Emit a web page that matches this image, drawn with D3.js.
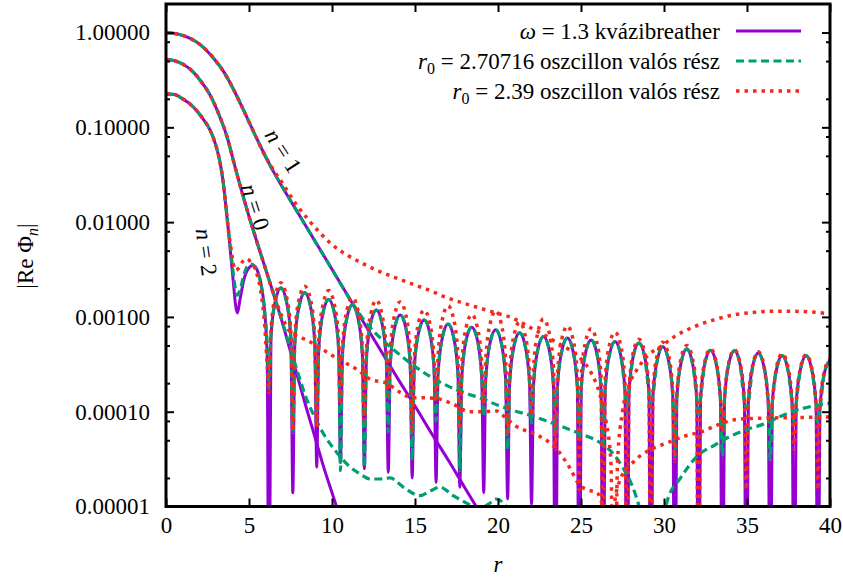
<!DOCTYPE html>
<html><head><meta charset="utf-8">
<script src="https://cdn.jsdelivr.net/npm/d3@7"></script>
<style>
body{margin:0;background:#fff;}
svg text{font-family:"Liberation Serif","DejaVu Serif",serif;fill:#000;}
</style></head><body>
<svg id="chart" width="843" height="581"></svg>
<script>
// |Re Phi_n| profiles, sampled as [r, value]

// n = 1 component
const p1 = [[0,1.0],[1,0.933],[2,0.759],[3,0.501],[3.5,0.38],[4,0.265],[4.5,0.176],[5,0.114],[5.5,0.074],[6,0.049],[6.5,0.0335],[7,0.0236],[8,0.0121],[9,0.0062],[10,0.00318],[11,0.00162],[12,0.00082],[13,0.000424],[14,0.000218],[15,0.000115],[16,0.0000589],[17,0.0000309],[18,0.0000158],[19,0.0000081],[20,0.0000042]];
const g1Tail = [[12,0.00089],[13,0.00058],[14,0.00041],[15,0.0003],[16,0.00023],[17,0.000186],[18,0.000158],[19,0.000138],[20,0.000117],[21,0.000102],[22,0.000091],[23,0.000079],[24,0.000068],[25,0.000058],[26,0.000049],[27,0.000035],[27.5,0.000026],[28,0.000018],[28.5,0.00001],[29,0.000004],[29.4,0.0000001],[29.8,0.000004],[30.2,0.0000115],[31,0.00002],[32,0.000034],[33,0.000044],[34,0.000055],[35,0.000065],[36,0.000074],[37,0.000089],[38,0.000104],[39,0.000115],[40,0.000123]];
const r1Tail = [[6.5,0.035],[7,0.026],[7.89,0.015],[8.5,0.011],[9.28,0.0077],[10,0.0058],[10.9,0.0045],[11.8,0.0037],[12.7,0.0031],[13.8,0.0026],[14.9,0.0022],[15.9,0.0019],[16.9,0.0016],[17.9,0.0014],[18.9,0.00124],[19.9,0.0011],[20.9,0.00097],[21.9,0.00078],[22.95,0.00062],[23.6,0.00053],[24.3,0.00045],[25.0,0.00036],[25.6,0.00026],[26.1,0.00016],[26.5,0.00008],[26.8,0.00003],[27.0,0.0000001],[27.2,0.00003],[27.5,0.0001],[27.9,0.00019],[28.5,0.0003],[29.0,0.00039],[29.76,0.00048],[30.7,0.00063],[31.75,0.00078],[33,0.00093],[34.2,0.00105],[35.5,0.00112],[36.8,0.00115],[38.3,0.00114],[40,0.00108]];

// n = 0 component
const core0 = [[0,0.52],[0.5,0.505],[1,0.465],[1.63,0.385],[2.2,0.29],[2.65,0.22],[3.2,0.135],[3.67,0.08],[4.2,0.036],[4.6,0.02],[5.0,0.0115],[5.5,0.006],[6.0,0.0032],[6.5,0.0017]];
const p0Tail = [[7.0,0.00088],[7.5,0.00043],[8.0,0.00021],[8.5,0.000103],[9.0,0.000052],[9.5,0.000026],[10.0,0.000014],[10.5,0.0000075],[11,0.000004]];
const g0Tail = [[7.0,0.0009],[7.5,0.00046],[8.0,0.00024],[8.5,0.000132],[8.86,0.000095],[9.5,0.000058],[10.3,0.000037],[11.0,0.000027],[11.7,0.000022],[12.3,0.0000195],[12.9,0.0000195],[13.5,0.00002],[14.3,0.000016],[15.3,0.000013],[15.9,0.0000145],[16.5,0.000016],[17.3,0.000013],[18.3,0.0000104],[18.8,0.0000093],[19.4,0.0000105],[19.9,0.000012],[20.4,0.0000105],[21,0.000007]];
const r0Tail = [[7.0,0.001],[7.47,0.0007],[8.0,0.00062],[8.47,0.00057],[9.46,0.00045],[10.48,0.00035],[11.5,0.00028],[12.3,0.00022],[13.3,0.0002],[14.1,0.00016],[14.9,0.00014],[15.6,0.00014],[16.3,0.000138],[17.3,0.00012],[18.3,0.0001],[19.1,0.0001],[19.9,0.000102],[20.5,0.000085],[21.1,0.00007],[22.35,0.000057],[23.55,0.00004],[24.3,0.000026],[24.9,0.000017],[25.4,0.000015],[25.96,0.000014],[26.4,0.000008],[26.7,0.0000001],[27.0,0.00001],[27.35,0.000019],[28.2,0.00003],[29.2,0.00004],[30.2,0.000047],[31.2,0.000055],[32.2,0.000061],[33.2,0.000072],[34.2,0.000082],[35.4,0.000085],[36.6,0.000086],[38.2,0.000087],[40,0.000088]];

// n = 2 component: core, first dip, then radiating tail
const core2 = [[0,0.225],[0.5,0.222],[1,0.2],[1.63,0.165],[2.2,0.125],[2.65,0.094],[3.0,0.065],[3.25,0.043],[3.45,0.026],[3.6,0.015],[3.75,0.0085]];
const p2Mid = [[3.9,0.0045],[4.05,0.0024],[4.2,0.0013],[4.3,0.0011],[4.45,0.0015],[4.7,0.0025],[5.0,0.0033],[5.25,0.0035],[5.5,0.0031],[5.75,0.0021],[5.95,0.0011],[6.1,0.00035]];
const g2Mid = [[3.9,0.005],[4.05,0.0029],[4.2,0.0019],[4.3,0.0017],[4.45,0.0019],[4.7,0.0028],[4.95,0.0035],[5.15,0.0036],[5.45,0.0031],[5.75,0.0021],[5.95,0.0011],[6.1,0.0005]];
const r2Mid = [[3.9,0.0055],[4.05,0.0037],[4.2,0.0031],[4.4,0.0033],[4.65,0.0039],[4.86,0.0041],[5.1,0.0038],[5.4,0.0031],[5.7,0.0019],[5.95,0.0008],[6.1,0.0003]];

// radii of the oscillating tail samples (shared by the three runs)
const oscR = [
 6.20,6.32,6.60,6.92,7.24,7.52, 7.64,7.76,8.04,8.36,8.68,8.96, 9.08,9.20,9.48,9.80,10.12,10.40,
 10.51,10.63,10.91,11.23,11.55,11.83, 11.95,12.07,12.35,12.67,12.99,13.27, 13.39,13.51,13.79,14.11,14.43,14.71,
 14.83,14.95,15.23,15.55,15.87,16.15, 16.27,16.39,16.67,16.99,17.31,17.59, 17.70,17.82,18.10,18.42,18.74,19.02,
 19.14,19.26,19.54,19.86,20.18,20.46, 20.58,20.70,20.98,21.30,21.62,21.90, 22.02,22.14,22.42,22.74,23.06,23.34,
 23.46,23.58,23.86,24.18,24.50,24.78, 24.89,25.01,25.29,25.61,25.93,26.21, 26.33,26.45,26.73,27.05,27.37,27.65,
 27.77,27.89,28.17,28.49,28.81,29.09, 29.21,29.33,29.61,29.93,30.25,30.53, 30.65,30.77,31.05,31.37,31.69,31.97,
 32.08,32.20,32.48,32.80,33.12,33.40, 33.52,33.64,33.92,34.24,34.56,34.84, 34.96,35.08,35.36,35.68,36.00,36.28,
 36.40,36.52,36.80,37.12,37.44,37.72, 37.84,37.96,38.24,38.56,38.88,39.16, 39.27,39.39,39.67,40.00];

const p2Osc = [
 1e-7,6.1e-4,1.5e-3,2.02e-3,1.5e-3,6.1e-4, 1.4e-5,5.4e-4,1.35e-3,1.8e-3,1.35e-3,5.4e-4, 2.6e-5,4.6e-4,1.15e-3,1.53e-3,1.15e-3,4.6e-4,
 2.9e-5,4.0e-4,1.0e-3,1.34e-3,1.0e-3,4.0e-4, 2.5e-5,3.5e-4,8.9e-4,1.18e-3,8.9e-4,3.5e-4, 2.3e-5,3.2e-4,7.9e-4,1.05e-3,7.9e-4,3.2e-4,
 2.0e-5,2.8e-4,7.0e-4,9.3e-4,7.0e-4,2.8e-4, 1.8e-5,2.5e-4,6.3e-4,8.4e-4,6.3e-4,2.5e-4, 1.6e-5,2.3e-4,5.9e-4,7.8e-4,5.9e-4,2.3e-4,
 1.4e-5,2.2e-4,5.5e-4,7.3e-4,5.5e-4,2.2e-4, 1.2e-5,2.0e-4,5.1e-4,6.8e-4,5.1e-4,2.0e-4, 1.05e-5,1.9e-4,4.7e-4,6.2e-4,4.7e-4,1.9e-4,
 1e-7,1.8e-4,4.5e-4,6.0e-4,4.5e-4,1.8e-4, 1e-7,1.7e-4,4.3e-4,5.7e-4,4.3e-4,1.7e-4, 1e-7,1.65e-4,4.1e-4,5.5e-4,4.1e-4,1.65e-4,
 1e-7,1.6e-4,4.0e-4,5.3e-4,4.0e-4,1.6e-4, 1e-7,1.45e-4,3.6e-4,4.85e-4,3.6e-4,1.45e-4, 1e-7,1.4e-4,3.4e-4,4.6e-4,3.4e-4,1.4e-4,
 1e-7,1.35e-4,3.35e-4,4.45e-4,3.35e-4,1.35e-4, 1e-7,1.3e-4,3.3e-4,4.4e-4,3.3e-4,1.3e-4, 1e-7,1.25e-4,3.1e-4,4.15e-4,3.1e-4,1.25e-4,
 1e-7,1.2e-4,2.9e-4,3.9e-4,2.9e-4,1.2e-4, 1e-7,1.2e-4,2.9e-4,3.9e-4,2.9e-4,1.2e-4, 1e-7,1.05e-4,2.6e-4,3.5e-4];

const g2Osc = [
 1.8e-4,6.1e-4,1.5e-3,2.02e-3,1.5e-3,6.1e-4, 6e-5,5.4e-4,1.35e-3,1.8e-3,1.35e-3,5.4e-4, 9.7e-5,4.6e-4,1.15e-3,1.53e-3,1.15e-3,4.6e-4,
 2.4e-5,4.0e-4,1.0e-3,1.34e-3,1.0e-3,4.0e-4, 2.6e-5,3.5e-4,8.9e-4,1.18e-3,8.9e-4,3.5e-4, 6.1e-5,3.2e-4,7.9e-4,1.05e-3,7.9e-4,3.2e-4,
 3.1e-5,2.8e-4,7.0e-4,9.3e-4,7.0e-4,2.8e-4, 8e-5,2.5e-4,6.3e-4,8.4e-4,6.3e-4,2.5e-4, 2.4e-5,2.3e-4,5.9e-4,7.8e-4,5.9e-4,2.3e-4,
 9e-5,2.2e-4,5.5e-4,7.3e-4,5.5e-4,2.2e-4, 4e-5,2.0e-4,5.1e-4,6.8e-4,5.1e-4,2.0e-4, 7.6e-5,1.9e-4,4.7e-4,6.2e-4,4.7e-4,1.9e-4,
 5.6e-5,1.8e-4,4.5e-4,6.0e-4,4.5e-4,1.8e-4, 5.2e-5,1.7e-4,4.3e-4,5.7e-4,4.3e-4,1.7e-4, 4e-5,1.65e-4,4.1e-4,5.5e-4,4.1e-4,1.65e-4,
 9.7e-5,1.6e-4,4.0e-4,5.3e-4,4.0e-4,1.6e-4, 1.1e-4,1.45e-4,3.6e-4,4.85e-4,3.6e-4,1.45e-4, 3.4e-5,1.4e-4,3.4e-4,4.6e-4,3.4e-4,1.4e-4,
 8.8e-5,1.35e-4,3.35e-4,4.45e-4,3.35e-4,1.35e-4, 3.4e-5,1.3e-4,3.3e-4,4.4e-4,3.3e-4,1.3e-4, 1.1e-4,1.25e-4,3.1e-4,4.15e-4,3.1e-4,1.25e-4,
 3.1e-5,1.2e-4,2.9e-4,3.9e-4,2.9e-4,1.2e-4, 7.6e-5,1.2e-4,2.9e-4,3.9e-4,2.9e-4,1.2e-4, 7.6e-5,1.05e-4,2.6e-4,3.5e-4];

const r2Osc = [
 1.6e-4,6.9e-4,1.7e-3,2.3e-3,1.7e-3,6.9e-4, 6.3e-5,6.3e-4,1.6e-3,2.1e-3,1.6e-3,6.3e-4, 6.8e-5,5.7e-4,1.4e-3,1.9e-3,1.4e-3,5.7e-4,
 1.2e-4,4.8e-4,1.2e-3,1.6e-3,1.2e-3,4.8e-4, 8e-5,4.5e-4,1.1e-3,1.5e-3,1.1e-3,4.5e-4, 1.5e-4,4.3e-4,1.08e-3,1.44e-3,1.08e-3,4.3e-4,
 6e-5,3.5e-4,8.9e-4,1.18e-3,8.9e-4,3.5e-4, 1.3e-4,3.9e-4,9.8e-4,1.31e-3,9.8e-4,3.9e-4, 7e-5,3.2e-4,8e-4,1.06e-3,8e-4,3.2e-4,
 1.2e-4,3.5e-4,8.7e-4,1.16e-3,8.7e-4,3.5e-4, 6e-5,2.6e-4,6.6e-4,8.8e-4,6.6e-4,2.6e-4, 9e-5,2.9e-4,7.1e-4,9.5e-4,7.1e-4,2.9e-4,
 4e-5,2.4e-4,6e-4,8e-4,6e-4,2.4e-4, 1.5e-5,2.3e-4,5.6e-4,7.5e-4,5.6e-4,2.3e-4, 1e-7,2.1e-4,5.2e-4,6.9e-4,5.2e-4,2.1e-4,
 1e-7,1.7e-4,4.4e-4,5.8e-4,4.4e-4,1.7e-4, 1e-7,1.6e-4,4.1e-4,5.4e-4,4.1e-4,1.6e-4, 3e-5,1.5e-4,3.8e-4,5e-4,3.8e-4,1.5e-4,
 1e-7,1.4e-4,3.5e-4,4.6e-4,3.5e-4,1.4e-4, 6e-5,1.35e-4,3.4e-4,4.5e-4,3.4e-4,1.35e-4, 1.5e-5,1.3e-4,3.2e-4,4.3e-4,3.2e-4,1.3e-4,
 8e-5,1.25e-4,3.1e-4,4.1e-4,3.1e-4,1.25e-4, 4e-5,1.2e-4,3e-4,4e-4,3e-4,1.2e-4, 1.5e-5,1.1e-4,2.7e-4,3.6e-4];

// axis ticks
const xTicks = [0,5,10,15,20,25,30,35,40];
const yTicks = [1e-5,1e-4,1e-3,1e-2,1e-1,1];
const yMinor = [2e-5,5e-5,8e-5,2e-4,5e-4,8e-4,2e-3,5e-3,8e-3,2e-2,5e-2,8e-2,0.2,0.5,0.8];

// ---- drawing ----
const svg = d3.select("#chart");
const L = 166, R = 830, T = 4, B = 506.5;
const x = d3.scaleLinear().domain([0, 40]).range([L, R]);
const y = d3.scaleLog().domain([1e-5, 2]).range([B, T]);

const pair = (rs, vs) => rs.map((r, i) => [r, vs[i]]);
const upTo = (arr, r) => arr.filter(d => d[0] <= r);

const runs = [
  {color:"#9400d3", dash:null, width:3, parts:[
    p1, core0.concat(p0Tail), core2.concat(p2Mid, pair(oscR, p2Osc))]},
  {color:"#009e73", dash:"8,4.5", width:3.2, parts:[
    upTo(p1, 11).concat(g1Tail), core0.concat(g0Tail), core2.concat(g2Mid, pair(oscR, g2Osc))]},
  {color:"#f42a1c", dash:"3.5,5", width:3.5, parts:[
    upTo(p1, 6).concat(r1Tail), core0.concat(r0Tail), core2.concat(r2Mid, pair(oscR, r2Osc))]}
];

svg.append("defs").append("clipPath").attr("id", "plotClip")
  .append("rect").attr("x", L).attr("y", T).attr("width", R - L).attr("height", B - T);

const line = d3.line().x(d => x(d[0])).y(d => y(d[1])).curve(d3.curveMonotoneX);
const plot = svg.append("g").attr("clip-path", "url(#plotClip)");
runs.forEach(run => {
  run.parts.forEach(part => {
    plot.append("path").datum(part).attr("d", line)
      .attr("fill", "none").attr("stroke", run.color).attr("stroke-width", run.width)
      .attr("stroke-linejoin", "round")
      .attr("stroke-dasharray", run.dash);
  });
});

// ticks (inward on all sides)
function ticks(axis, tr) {
  const g = svg.append("g").attr("transform", tr).call(axis);
  g.select(".domain").remove();
  g.selectAll(".tick line").attr("stroke", "#000").attr("stroke-width", 2);
  return g;
}
ticks(d3.axisLeft(y).tickValues(yTicks).tickSize(-8).tickPadding(16).tickFormat(d3.format(".5f")), `translate(${L},0)`)
  .selectAll("text").attr("font-size", 23).attr("font-family", "Liberation Serif").attr("fill", "#000");
ticks(d3.axisLeft(y).tickValues(yMinor).tickSize(-4).tickFormat(""), `translate(${L},0)`);
ticks(d3.axisRight(y).tickValues(yTicks).tickSize(-8).tickFormat(""), `translate(${R},0)`);
ticks(d3.axisRight(y).tickValues(yMinor).tickSize(-4).tickFormat(""), `translate(${R},0)`);
ticks(d3.axisBottom(x).tickValues(xTicks).tickSize(-8).tickPadding(10).tickFormat(d3.format("d")), `translate(0,${B})`)
  .selectAll("text").attr("font-size", 23).attr("font-family", "Liberation Serif").attr("fill", "#000");
ticks(d3.axisTop(x).tickValues(xTicks).tickSize(-8).tickFormat(""), `translate(0,${T})`);

// frame
svg.append("rect").attr("x", L).attr("y", T).attr("width", R - L).attr("height", B - T)
  .attr("fill", "none").attr("stroke", "#000").attr("stroke-width", 3);

// axis titles
svg.append("text").attr("x", 498).attr("y", 572).attr("text-anchor", "middle")
  .attr("font-size", 23).attr("font-style", "italic").text("r");
const yl = svg.append("text").attr("transform", "translate(33,256) rotate(-90)")
  .attr("text-anchor", "middle").attr("font-size", 23);
yl.append("tspan").text("|Re Φ");
yl.append("tspan").attr("font-style", "italic").attr("font-size", 16).attr("dy", 5).text("n");
yl.append("tspan").attr("dy", -5).text("|");

// curve labels
const labels = [
  {n:"1", cx:283, cy:151, rot:57},
  {n:"0", cx:255, cy:207, rot:72},
  {n:"2", cx:206, cy:252, rot:82}
];
labels.forEach(l => {
  const t = svg.append("text").attr("transform", `translate(${l.cx},${l.cy}) rotate(${l.rot})`)
    .attr("text-anchor", "middle").attr("dy", "0.32em").attr("font-size", 23);
  t.append("tspan").attr("font-style", "italic").text("n");
  t.append("tspan").text(" = " + l.n);
});

// legend
const legend = [
  {y:31, color:"#9400d3", dash:null, width:3, parts:[["ω", true], [" = 1.3 kvázibreather", false]]},
  {y:61, color:"#009e73", dash:"8,4.5", width:3.2, parts:[["r", true], ["0", false, true], [" = 2.70716 oszcillon valós rész", false]]},
  {y:91, color:"#f42a1c", dash:"3.5,5", width:3.5, parts:[["r", true], ["0", false, true], [" = 2.39 oszcillon valós rész", false]]}
];
legend.forEach(d => {
  const t = svg.append("text").attr("x", 720).attr("y", d.y + 8).attr("text-anchor", "end").attr("font-size", 23);
  d.parts.forEach(p => {
    const s = t.append("tspan").text(p[0]);
    if (p[1]) s.attr("font-style", "italic");
    if (p[2]) s.attr("font-size", 16).attr("dy", 5);
    else if (d.parts.length === 3 && p === d.parts[2]) s.attr("dy", -5);
  });
  svg.append("line").attr("x1", 736).attr("x2", 801).attr("y1", d.y).attr("y2", d.y)
    .attr("stroke", d.color).attr("stroke-width", d.width).attr("stroke-dasharray", d.dash);
});
</script>
</body></html>
